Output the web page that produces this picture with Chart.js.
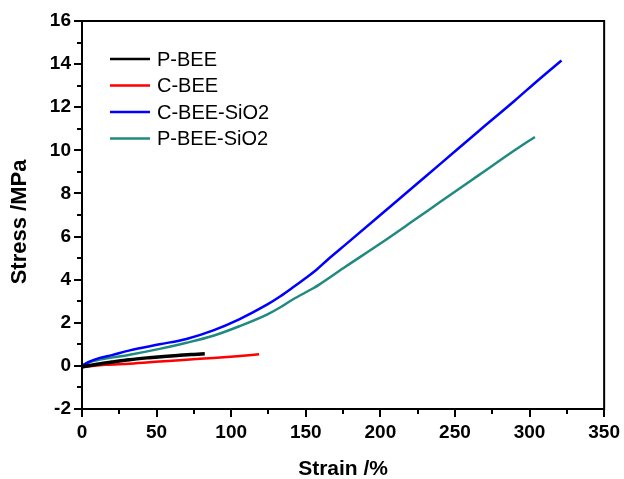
<!DOCTYPE html>
<html>
<head>
<meta charset="utf-8">
<script src="https://cdn.jsdelivr.net/npm/chart.js@4.4.0/dist/chart.umd.min.js"></script>
<style>
  html, body { margin: 0; padding: 0; background: #fff; }
  #wrap { width: 624px; height: 479px; position: relative; }
</style>
</head>
<body>
<div id="wrap"><canvas id="c" width="624" height="479"></canvas></div>
<script>
// ---- data ----
const seriesNames = ["P-BEE", "C-BEE", "C-BEE-SiO2", "P-BEE-SiO2"];

const strainPBEE = [0, 10, 20, 32, 45, 55, 65.6, 75, 82.3];
const stressPBEE = [-0.05, 0.08, 0.18, 0.29, 0.38, 0.44, 0.49, 0.53, 0.56];

const strainCBEE = [0, 16, 32, 52, 70, 88, 104, 118.7];
const stressCBEE = [-0.05, 0.05, 0.10, 0.20, 0.29, 0.37, 0.45, 0.54];

const strainCBEESiO2 = [0, 5, 12, 20, 32, 52, 70, 88, 105, 124, 133, 141, 150, 157, 165, 177, 199, 222, 240, 266, 290, 306.5, 321.4];
const stressCBEESiO2 = [0, 0.2, 0.37, 0.5, 0.72, 1.0, 1.25, 1.65, 2.15, 2.84, 3.23, 3.62, 4.08, 4.45, 4.95, 5.65, 6.94, 8.3, 9.36, 10.9, 12.3, 13.3, 14.17];

const strainPBEESiO2 = [0, 5, 12, 32, 52, 70, 88, 105.5, 124, 133, 141, 155, 159, 177, 199, 222, 240, 266, 291, 303.6];
const stressPBEESiO2 = [0, 0.17, 0.29, 0.52, 0.79, 1.07, 1.4, 1.84, 2.38, 2.72, 3.07, 3.6, 3.77, 4.62, 5.63, 6.73, 7.6, 8.85, 10.05, 10.62];

const xMin = 0, xMax = 350, xMajor = 50, xMinor = 25;
const yMin = -2, yMax = 16, yMajor = 2, yMinor = 1;
const xTitle = "Strain /%";
const yTitle = "Stress /MPa";

const colors = ["#000000", "#ff0000", "#0000ff", "#208a80"];
const widths = [3.5, 2.5, 2.5, 2.5];

function pts(xs, ys) { return xs.map((x, i) => ({ x: x, y: ys[i] })); }
const allX = [strainPBEE, strainCBEE, strainCBEESiO2, strainPBEESiO2];
const allY = [stressPBEE, stressCBEE, stressCBEESiO2, stressPBEESiO2];

const datasets = seriesNames.map((name, i) => ({
  label: name,
  data: pts(allX[i], allY[i]),
  borderColor: colors[i],
  backgroundColor: colors[i],
  borderWidth: widths[i],
  showLine: true,
  pointRadius: 0,
  cubicInterpolationMode: 'monotone',
  fill: false
}));

const FONT = "'Liberation Sans', Arial, sans-serif";

const framePlugin = {
  id: 'frame',
  afterDraw(chart) {
    const ctx = chart.ctx;
    const a = chart.chartArea;
    const xs = chart.scales.x, ys = chart.scales.y;
    ctx.save();
    ctx.strokeStyle = '#000';
    ctx.lineWidth = 2;
    ctx.strokeRect(a.left, a.top, a.right - a.left, a.bottom - a.top);
    // minor + major ticks
    ctx.lineWidth = 2;
    ctx.beginPath();
    for (let v = xMin; v <= xMax + 1e-9; v += xMinor) {
      const px = Math.round(xs.getPixelForValue(v));
      const isMajor = Math.abs(v / xMajor - Math.round(v / xMajor)) < 1e-6;
      const len = isMajor ? 8 : 5;
      ctx.moveTo(px, a.bottom);
      ctx.lineTo(px, a.bottom + len);
    }
    for (let v = yMin; v <= yMax + 1e-9; v += yMinor) {
      const py = Math.round(ys.getPixelForValue(v));
      const isMajor = Math.abs(v / yMajor - Math.round(v / yMajor)) < 1e-6;
      const len = isMajor ? 8 : 5;
      ctx.moveTo(a.left, py);
      ctx.lineTo(a.left - len, py);
    }
    ctx.stroke();
    // axis titles
    ctx.fillStyle = '#000';
    ctx.font = "bold 21px " + FONT;
    ctx.textAlign = 'center';
    ctx.textBaseline = 'middle';
    ctx.fillText(xTitle, (a.left + a.right) / 2, 469);
    ctx.save();
    ctx.translate(20, 222);
    ctx.rotate(-Math.PI / 2);
    ctx.font = "bold 22px " + FONT;
    ctx.fillText(yTitle, 0, 0);
    ctx.restore();
    // legend
    ctx.font = "20px " + FONT;
    ctx.textAlign = 'left';
    const rowY = [59, 85.5, 112, 138.5];
    chart.data.datasets.forEach((ds, i) => {
      ctx.strokeStyle = ds.borderColor;
      ctx.lineWidth = 2.5;
      ctx.beginPath();
      ctx.moveTo(110, rowY[i]);
      ctx.lineTo(150, rowY[i]);
      ctx.stroke();
      ctx.fillStyle = '#000';
      ctx.fillText(ds.label, 157, rowY[i] + 1);
    });
    ctx.restore();
  }
};

new Chart(document.getElementById('c'), {
  type: 'scatter',
  data: { datasets: datasets },
  options: {
    responsive: false,
    animation: false,
    devicePixelRatio: 1,
    layout: { padding: { top: 21, right: 18, left: 0, bottom: 0 } },
    plugins: { legend: { display: false }, tooltip: { enabled: false } },
    scales: {
      x: {
        type: 'linear', min: xMin, max: xMax,
        afterFit(s) { s.height = 70; },
        ticks: { stepSize: xMajor, color: '#000', font: { family: FONT, size: 19, weight: 'bold' }, padding: 4, maxRotation: 0 },
        grid: { display: true, drawOnChartArea: false, drawTicks: true, tickLength: 8, color: 'rgba(0,0,0,0)' },
        border: { display: true, color: '#000', width: 2 }
      },
      y: {
        type: 'linear', min: yMin, max: yMax,
        afterFit(s) { s.width = 82; },
        ticks: { stepSize: yMajor, color: '#000', font: { family: FONT, size: 19, weight: 'bold' }, padding: 3 },
        grid: { display: true, drawOnChartArea: false, drawTicks: true, tickLength: 8, color: 'rgba(0,0,0,0)' },
        border: { display: true, color: '#000', width: 2 }
      }
    }
  },
  plugins: [framePlugin]
});
</script>
</body>
</html>
